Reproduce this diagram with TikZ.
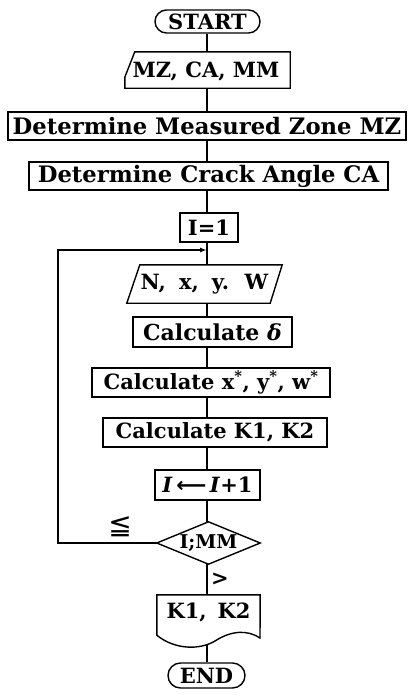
\documentclass[tikz,border=0pt]{standalone}
\usepackage{fontspec}
\setmainfont{DejaVu Serif}
\newfontfamily\symfont{DejaVu Sans}
\usetikzlibrary{calc,arrows.meta,backgrounds}
\tikzset{
  fc/.style={line width=1.4pt, draw=black},
  txt/.style={inner sep=0pt, font=\fontsize{21}{24}\selectfont\bfseries},
  bigtxt/.style={font=\fontsize{22.7}{26}\selectfont\bfseries},
  boxn/.style={txt, fc, fill=white, rectangle},
  plain/.style={txt, rectangle},
  conn/.style={line width=1.4pt},
}
\begin{document}
\begin{tikzpicture}[x=1pt,y=-1pt]
\useasboundingbox (0,0) rectangle (408,696);
\coordinate (trunk) at (207,0);
% nodes
\node[boxn, rounded corners=11.5pt, minimum width=105pt, minimum height=23pt] (start) at (207.5,21.5) {START};
\node[plain, minimum width=165pt, minimum height=36pt] (card) at (207.5,70) {};
\draw[fc, fill=white] ($(card.north west)+(10,0)$) -- (card.north east) -- (card.south east) -- (card.south west) -- ($(card.south west)+(0,-11)$) -- cycle;
\node[txt] (cardt) at (206,71) {MZ, CA, MM};
\node[boxn, bigtxt, minimum width=398pt, minimum height=28pt] (mz) at (207,126) {Determine Measured Zone MZ};
\node[boxn, bigtxt, minimum width=359pt, minimum height=28pt] (ca) at (208.5,176) {Determine Crack Angle CA};
\node[boxn, minimum width=58pt, minimum height=29pt] (i1) at (209,227.5) {I=1};
\node[plain, minimum width=155pt, minimum height=38pt] (nxyw) at (204.5,284) {};
\draw[fc, fill=white] ($(nxyw.north west)+(13,0)$) -- (nxyw.north east) -- ($(nxyw.south east)+(-12,0)$) -- (nxyw.south west) -- cycle;
\node[txt] (nxywt) at (nxyw.center) {N,\; x,\; y.\; W};
\node[boxn, font=\fontsize{22}{25}\selectfont\bfseries, minimum width=159pt, minimum height=30pt] (delta) at (212.5,332) {Calculate \textit{δ}};
\node[boxn, minimum width=238pt, minimum height=29pt] (xyw) at (211,382.5) {Calculate x\textsuperscript{*}, y\textsuperscript{*}, w\textsuperscript{*}};
\node[boxn, minimum width=224pt, minimum height=29pt] (k12) at (215,432.5) {Calculate K1, K2};
\node[boxn, minimum width=105pt, minimum height=30pt] (inc) at (207.5,485) {\textit{I}\,{\symfont\bfseries ⟵}\,\textit{I}+1};
\node[plain, minimum width=103pt, minimum height=42pt] (dia) at (208.5,543) {};
\draw[fc, fill=white] (dia.north) -- (dia.east) -- (dia.south) -- (dia.west) -- cycle;
\node[txt, font=\fontsize{19}{22}\selectfont\bfseries] (diat) at (dia.center) {I;MM};
\node[plain, minimum width=103pt, minimum height=40pt] (out) at (208.5,615) {};
\draw[fc, fill=white] (out.north west) -- (out.north east) -- (260,638) .. controls (248,630) and (232,630) .. (215,641) .. controls (200,650) and (175,650) .. (out.south west) -- cycle;
\node[txt] (outt) at (208.5,612) {K1,\, K2};
\node[boxn, rounded corners=12.5pt, minimum width=77pt, minimum height=25pt] (end) at (206.5,675.5) {END};
\coordinate (lt) at (58,250);
\coordinate (jn) at (207,250);
% labels
\node[inner sep=0pt, font=\symfont\fontsize{28}{30}\selectfont] (le) at (120,527) {≦};
\node[txt] (gt) at (220,579) {>};
% connectors
\begin{pgfonlayer}{background}
\draw[conn] (start.south -| trunk) -- (card.north -| trunk);
\draw[conn] (card.south -| trunk) -- (mz.north -| trunk);
\draw[conn] (mz.south -| trunk) -- (ca.north -| trunk);
\draw[conn] (ca.south -| trunk) -- (i1.north -| trunk);
\draw[conn] (i1.south -| trunk) -- (nxyw.north -| trunk);
\draw[conn] (nxyw.south -| trunk) -- (delta.north -| trunk);
\draw[conn] (delta.south -| trunk) -- (xyw.north -| trunk);
\draw[conn] (xyw.south -| trunk) -- (k12.north -| trunk);
\draw[conn] (k12.south -| trunk) -- (inc.north -| trunk);
\draw[conn] (inc.south -| trunk) -- (dia.north -| trunk);
\draw[conn] (dia.south -| trunk) -- (out.north -| trunk);
\draw[conn] (out.south -| trunk) -- (end.north -| trunk);
\draw[conn, -{Latex[length=7pt,width=5pt]}] (dia.west) -- (dia.west -| lt) -- (lt) -- (jn);
\end{pgfonlayer}
\end{tikzpicture}
\end{document}
